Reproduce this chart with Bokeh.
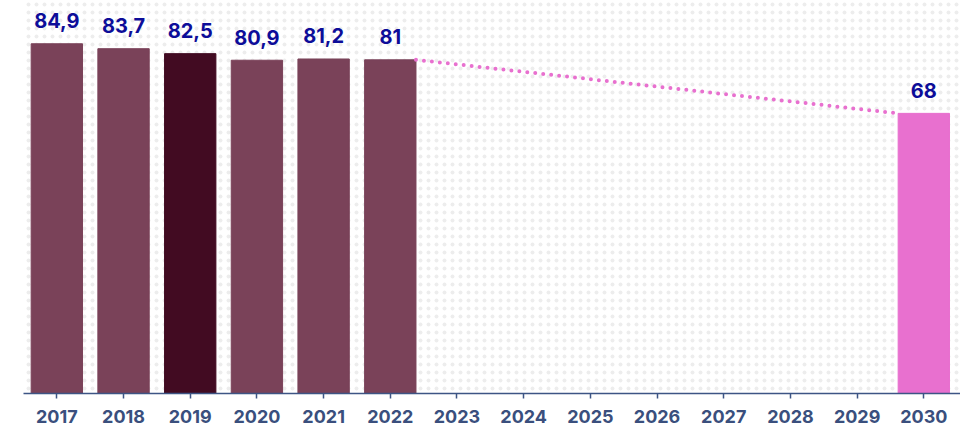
from bokeh.plotting import figure
from bokeh.models import ColumnDataSource, BoxAnnotation, FixedTicker, Range1d
from bokeh.core.properties import value
from bokeh.embed import file_html
from bokeh.resources import INLINE

years = [str(y) for y in range(2017, 2031)]
bar_years = ["2017", "2018", "2019", "2020", "2021", "2022", "2030"]
bar_values = [84.9, 83.7, 82.5, 80.9, 81.2, 81, 68]
bar_labels = ["84,9", "83,7", "82,5", "80,9", "81,2", "81", "68"]
bar_colors = ["#7a4259", "#7a4259", "#420b22", "#7a4259", "#7a4259", "#7a4259", "#e870cf"]

BAR_W = 0.77
xs = [years.index(y) for y in bar_years]

src = ColumnDataSource(dict(x=xs, top=bar_values, label=bar_labels, color=bar_colors))

p = figure(width=960, height=430, output_backend="svg", toolbar_location=None,
           x_range=Range1d(-0.5, 13.55), y_range=Range1d(0, 95.4))
p.min_border_left = 23
p.min_border_right = 0
p.min_border_top = 0
p.min_border_bottom = 37
p.outline_line_color = None
p.background_fill_color = "white"
p.border_fill_color = "white"
p.xgrid.visible = False
p.ygrid.visible = False
p.yaxis.visible = False

bg = BoxAnnotation(fill_alpha=0, line_alpha=0, hatch_pattern="dot", hatch_color="#ededed",
                   hatch_scale=8, hatch_weight=3, level="underlay")
p.add_layout(bg)

p.vbar(x="x", top="top", width=BAR_W, color="color", source=src)

# dotted trend line from 2022 bar corner to 2030 bar corner
i22 = years.index("2022")
i30 = years.index("2030")
p.line(x=[i22 + BAR_W / 2, i30 - BAR_W / 2], y=[bar_values[5], bar_values[6]],
       line_color="#e870cf", line_width=4, line_dash="0 8", line_cap="round")

p.text(x="x", y="top", text="label", source=src, text_align="center",
       text_baseline="alphabetic", y_offset=-23, text_color="#0d0d99",
       text_font=value("Inter"), text_font_style="bold", text_font_size="20px")

ax = p.xaxis[0]
ax.ticker = FixedTicker(ticks=list(range(len(years))))
ax.major_label_overrides = {i: y for i, y in enumerate(years)}
ax.axis_line_color = "#3d5585"
ax.axis_line_width = 1.5
ax.major_tick_line_color = "#3d5585"
ax.major_tick_line_width = 1.5
ax.major_tick_in = 0
ax.major_tick_out = 5
ax.minor_tick_line_color = None
ax.major_label_text_color = "#3a4f7d"
ax.major_label_text_font = "Inter"
ax.major_label_text_font_style = "bold"
ax.major_label_text_font_size = "18px"
ax.major_label_standoff = 11

open("out.html", "w").write(file_html(p, INLINE))
